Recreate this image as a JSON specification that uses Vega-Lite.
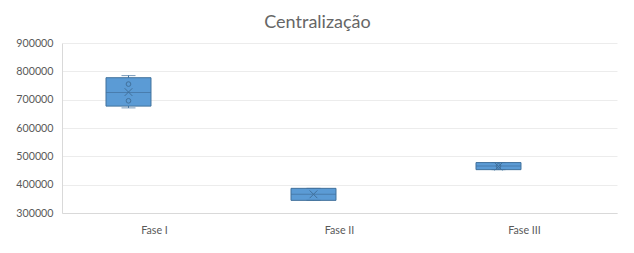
{
  "$schema": "https://vega.github.io/schema/vega-lite/v6.json",
  "width": 555,
  "height": 170,
  "autosize": {"type": "none"},
  "padding": {"left": 62, "top": 43, "right": 17, "bottom": 40},
  "background": "white",
  "title": {
    "text": "Centralização",
    "font": "Lato",
    "fontSize": 18,
    "fontWeight": "normal",
    "color": "#666666",
    "anchor": "middle",
    "dx": -22,
    "offset": 5
  },
  "config": {
    "view": {"stroke": null},
    "axis": {
      "labelFont": "Lato",
      "labelFontSize": 10.7,
      "labelColor": "#595959",
      "ticks": false,
      "domainColor": "#d9d9d9",
      "gridColor": "#ececec",
      "title": null
    }
  },
  "datasets": {
    "stats": [
      {"fase": "Fase I", "serie": "Série1", "min": 671000, "q1": 677250, "median": 725500, "q3": 777500, "max": 785000, "mean": 726750},
      {"fase": "Fase II", "serie": "Série1", "min": 344600, "q1": 344600, "median": 366500, "q3": 387000, "max": 387000, "mean": 366000},
      {"fase": "Fase III", "serie": "Série1", "min": 453000, "q1": 453000, "median": 466000, "q3": 478000, "max": 478000, "mean": 464000}
    ],
    "inner": [
      {"fase": "Fase I", "serie": "Série1", "valor": 755000},
      {"fase": "Fase I", "serie": "Série1", "valor": 696000},
      {"fase": "Fase III", "serie": "Série1", "valor": 466000}
    ]
  },
  "encoding": {
    "x": {
      "field": "fase",
      "type": "nominal",
      "scale": {"domain": ["Fase I", "Fase II", "Fase III"], "paddingInner": 0, "paddingOuter": 0},
      "axis": {"labelAngle": 0, "labelPadding": 12, "grid": false}
    },
    "xOffset": {
      "field": "serie",
      "type": "nominal",
      "scale": {"domain": ["Série1", "Série2"], "paddingInner": 0.135, "paddingOuter": 0.846}
    }
  },
  "layer": [
    {
      "data": {"name": "stats"},
      "mark": {"type": "rule", "color": "#41719c", "strokeWidth": 1},
      "encoding": {
        "y": {
          "field": "min",
          "type": "quantitative",
          "scale": {"domain": [300000, 900000], "nice": false, "zero": false},
          "axis": {
            "values": [300000, 400000, 500000, 600000, 700000, 800000, 900000],
            "tickCount": 7,
            "labelOverlap": false,
            "labelFlush": false,
            "format": "d",
            "labelPadding": 9,
            "grid": true
          }
        },
        "y2": {"field": "max"}
      }
    },
    {
      "data": {"name": "stats"},
      "mark": {"type": "bar", "color": "#5b9bd5", "stroke": "#41719c", "strokeWidth": 1},
      "encoding": {
        "y": {"field": "q1", "type": "quantitative"},
        "y2": {"field": "q3"}
      }
    },
    {
      "data": {"name": "stats"},
      "mark": {"type": "tick", "color": "#41719c", "thickness": 1, "size": 45},
      "encoding": {"y": {"field": "median", "type": "quantitative"}}
    },
    {
      "data": {"name": "stats"},
      "mark": {"type": "tick", "color": "#41719c", "thickness": 1, "size": 14},
      "encoding": {"y": {"field": "min", "type": "quantitative"}}
    },
    {
      "data": {"name": "stats"},
      "mark": {"type": "tick", "color": "#41719c", "thickness": 1, "size": 14},
      "encoding": {"y": {"field": "max", "type": "quantitative"}}
    },
    {
      "data": {"name": "stats"},
      "mark": {"type": "point", "shape": "M-1,-1L1,1M1,-1L-1,1", "filled": false, "stroke": "#41719c", "strokeWidth": 1, "size": 60, "opacity": 1},
      "encoding": {"y": {"field": "mean", "type": "quantitative"}}
    },
    {
      "data": {"name": "inner"},
      "mark": {"type": "point", "shape": "circle", "filled": false, "stroke": "#41719c", "strokeWidth": 1, "size": 22, "opacity": 1},
      "encoding": {"y": {"field": "valor", "type": "quantitative"}}
    }
  ]
}
